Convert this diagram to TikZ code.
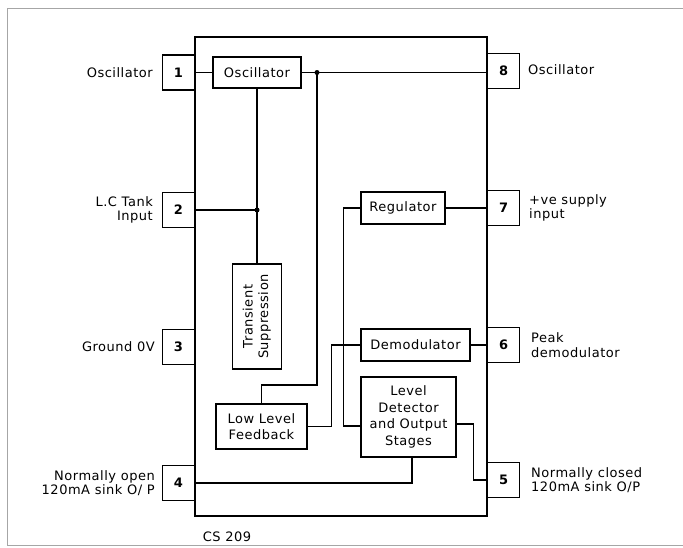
\documentclass[tikz,border=0pt]{standalone}
\usepackage{fontspec}
\setmainfont{DejaVu Sans}[LetterSpace=4]
\usetikzlibrary{calc}
\begin{document}
\begin{tikzpicture}[x=1pt,y=-1pt,
  blk/.style={draw, line width=1.2pt, inner sep=0pt, align=center, font=\fontsize{13}{16.5}\selectfont},
  pin/.style={draw, line width=1.2pt, minimum width=32pt, minimum height=35pt, inner sep=0pt, font=\bfseries\fontsize{13}{15}\selectfont},
  wire/.style={line width=1.2pt},
  lbl/.style={inner sep=0pt, font=\fontsize{13}{14.5}\selectfont},
  jdot/.style={circle, fill, inner sep=0pt, minimum size=5pt}]
\useasboundingbox (0,0) rectangle (683,547);
\fill[white] (0,0) rectangle (683,547);
\draw[gray!70, line width=0.8pt] (683,8) -- (7,8) -- (7,545) -- (683,545);

% chip body
\node[draw, line width=1.2pt, minimum width=292pt, minimum height=479pt, inner sep=0pt] (chip) at (341,276.5) {};

% pins
\node[pin, anchor=east] (p1) at (195,72.5) {1};
\node[pin, anchor=east] (p2) at (195,210) {2};
\node[pin, anchor=east] (p3) at (195,347) {3};
\node[pin, anchor=east] (p4) at (195,483) {4};
\node[pin, anchor=west] (p8) at (487,71) {8};
\node[pin, anchor=west] (p7) at (487,208) {7};
\node[pin, anchor=west] (p6) at (487,345) {6};
\node[pin, anchor=west] (p5) at (487,480) {5};

% blocks
\node[blk, minimum width=88pt, minimum height=31pt] (osc) at (257,72.5) {Oscillator};
\node[blk, minimum width=49pt, minimum height=105pt] (ts) at (257,316.5)
  {\rotatebox{90}{\begin{tabular}{@{}c@{}}Transient\\[-1pt]Suppression\end{tabular}}};
\node[blk, minimum width=91pt, minimum height=45pt] (llf) at (261.5,426.5) {Low Level\\Feedback};
\node[blk, minimum width=84pt, minimum height=32pt] (reg) at (403,208) {Regulator};
\node[blk, minimum width=109pt, minimum height=32pt] (dem) at (415.5,345) {Demodulator};
\node[blk, minimum width=95pt, minimum height=80pt] (ld) at (408.5,417) {Level\\Detector\\and Output\\Stages};

% junctions
\node[jdot] (j1) at (317,72.5) {};
\node[jdot] (j2) at (257,210) {};

% wires
\draw[wire] (p1.east) -- (osc.west);
\draw[wire] (osc.east) -- (osc.east -| p8.west);
\draw[wire] (j1.center) -- (317,385) -| (llf.north);
\draw[wire] (osc.south) -- (ts.north);
\draw[wire] (p2.east) -- (j2.center);
\draw[wire] (llf.east) -- ++(24,0) |- (dem.west);
\draw[wire] (reg.west) -- ++(-17,0) |- ($(ld.west)+(0,9)$);
\draw[wire] (reg.east) -- (p7.west);
\draw[wire] (dem.east) -- (p6.west);
\draw[wire] ($(ld.east)+(0,7)$) -- ++(17,0) |- (p5.west);
\draw[wire] ($(ld.south)+(3.5,0)$) |- (p4.east);

% labels
\node[lbl, anchor=east] (l1) at (153,73) {Oscillator};
\node[lbl, anchor=east, align=right] (l2) at (153,210) {L.C Tank\\Input};
\node[lbl, anchor=east] (l3) at (155,347) {Ground 0V};
\node[lbl, anchor=east, align=right] (l4) at (155,483) {Normally open\\120mA sink O/ P};
\node[lbl, anchor=west] (l8) at (528,70) {Oscillator};
\node[lbl, anchor=west, align=left] (l7) at (529,208) {+ve supply\\input};
\node[lbl, anchor=west, align=left] (l6) at (531,345) {Peak\\demodulator};
\node[lbl, anchor=west, align=left] (l5) at (531,480) {Normally closed\\120mA sink O/P};
\node[lbl] (cs) at (227,537) {CS 209};
\end{tikzpicture}
\end{document}
